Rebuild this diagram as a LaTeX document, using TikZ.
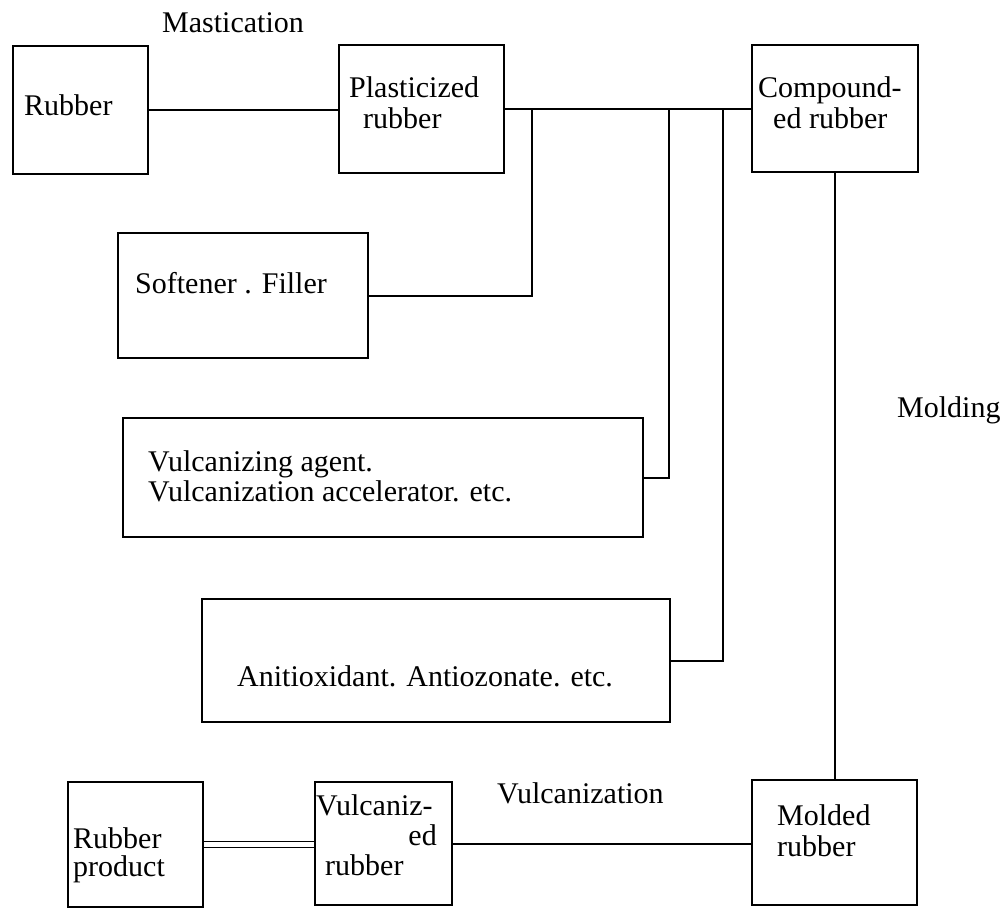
\documentclass[tikz,border=0pt]{standalone}
\usepackage{fontspec}
\setmainfont{Liberation Serif}
\newfontfamily\labelfont{Liberation Serif}
\begin{document}
\begin{tikzpicture}[x=1pt,y=-1pt,
  box/.style={draw, line width=2pt, rectangle, inner sep=0pt},
  link/.style={draw, line width=2pt},
  txt/.style={inner sep=0pt, font=\labelfont\fontsize{30}{30}\selectfont}]
\useasboundingbox (0,0) rectangle (1008,908);

% process boxes
\node[box, minimum width=135pt, minimum height=128pt] (rub)  at (80.5,110)  {};
\node[box, minimum width=165pt, minimum height=128pt] (pla)  at (421.5,109) {};
\node[box, minimum width=166pt, minimum height=127pt] (com)  at (835,108.5) {};
\node[box, minimum width=250pt, minimum height=125pt] (sof)  at (243,295.5) {};
\node[box, minimum width=520pt, minimum height=119pt] (vul)  at (383,477.5) {};
\node[box, minimum width=468pt, minimum height=123pt] (ant)  at (436,660.5) {};
\node[box, minimum width=135pt, minimum height=125pt] (prod) at (135.5,844.5) {};
\node[box, minimum width=137pt, minimum height=123pt] (vzd)  at (383.5,843.5) {};
\node[box, minimum width=165pt, minimum height=125pt] (mol)  at (834.5,842.5) {};

% box texts
\node[txt, anchor=base west] (trub) at (24,115) {Rubber};
\node[txt, anchor=base west] (tpla1) at (349,97) {Plasticized};
\node[txt, anchor=base west] (tpla2) at (363,128) {rubber};
\node[txt, anchor=base west] (tcom1) at (758,97) {Compound-};
\node[txt, anchor=base west] (tcom2) at (773,128) {ed rubber};
\node[txt, anchor=base west] (tsof) at (135,293) {Softener . Filler};
\node[txt, anchor=base west] (tvul1) at (148,471) {Vulcanizing agent.};
\node[txt, anchor=base west] (tvul2) at (148,501) {Vulcanization accelerator. etc.};
\node[txt, anchor=base west] (tant) at (237,686) {Anitioxidant. Antiozonate. etc.};
\node[txt, anchor=base west] (tprod1) at (73,848) {Rubber};
\node[txt, anchor=base west] (tprod2) at (73,876) {product};
\node[txt, anchor=base west] (tvzd1) at (316,815) {Vulcaniz-};
\node[txt, anchor=base east] (tvzd2) at (437,845) {ed};
\node[txt, anchor=base west] (tvzd3) at (325,875) {rubber};
\node[txt, anchor=base west] (tmol1) at (777,825) {Molded};
\node[txt, anchor=base west] (tmol2) at (777,856) {rubber};

% step labels
\node[txt, anchor=base west] (lmas) at (162,32) {Mastication};
\node[txt, anchor=base west] (lmld) at (897,417) {Molding};
\node[txt, anchor=base west] (lvlc) at (497,803) {Vulcanization};

% junctions on the compounding line
\coordinate (j1) at (532,109);
\coordinate (j2) at (669,109);
\coordinate (j3) at (723,109);

% connectors
\draw[link] (rub.east) -- (rub.east -| pla.west);
\draw[link] (pla.east) -- (pla.east -| com.west);
\draw[link] (sof.east) -| (j1);
\draw[link] (vul.east) -| (j2);
\draw[link] (ant.east) -| (j3);
\draw[link] (com.south) -- (com.south |- mol.north);
\draw[link] (vzd.east) -- (vzd.east -| mol.west);
\draw[line width=1.6pt, double, double distance=4.2pt] (prod.east) -- (prod.east -| vzd.west);
\end{tikzpicture}
\end{document}
